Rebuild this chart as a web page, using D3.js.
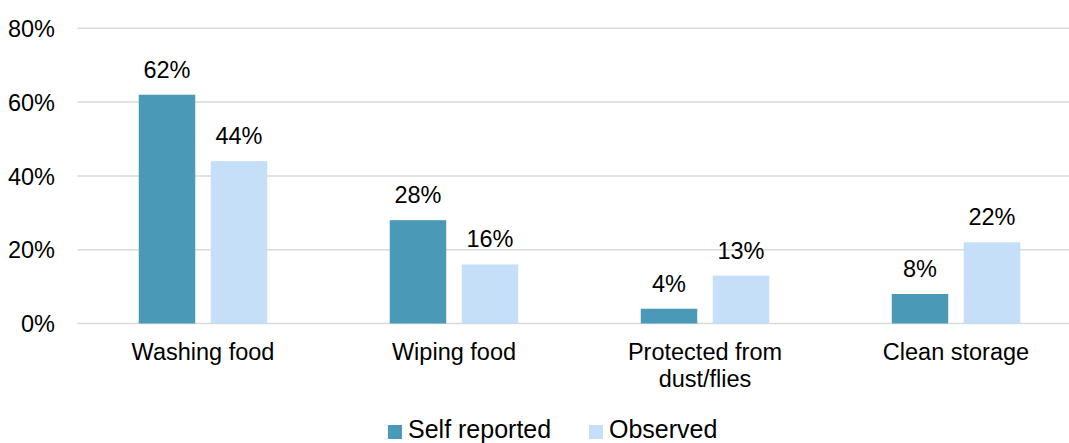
<!DOCTYPE html>
<html>
<head>
<meta charset="utf-8">
<script src="https://cdn.jsdelivr.net/npm/d3@7/dist/d3.min.js"></script>
<style>
  html, body { margin: 0; padding: 0; background: #fff; }
  svg { display: block; font-family: "Liberation Sans", Arial, sans-serif; }
</style>
</head>
<body>
<svg id="chart" width="1069" height="443"></svg>
<script>
// Food hygiene practices: self reported vs observed
const categories = [["Washing food"], ["Wiping food"], ["Protected from", "dust/flies"], ["Clean storage"]];
const seriesNames = ["Self reported", "Observed"];
const selfReported = [62, 28, 4, 8];
const observed = [44, 16, 13, 22];
const yTicks = [0, 20, 40, 60, 80];
const colors = ["#4A9AB7", "#C5DFF8"];

const svg = d3.select("#chart");
const left = 77.5, bandW = 251;
const fontSize = 23.5;

const x0 = d3.scaleBand()
  .domain(d3.range(categories.length))
  .range([left, left + bandW * categories.length]);
const y = d3.scaleLinear().domain([0, 80]).range([323.5, 28.3]);

// two bars per group, separated by a small gap
const barW = 56.5, gap = 15.5;
const x1 = d3.scaleBand().domain([0, 1])
  .range([-(barW + gap / 2), barW + gap / 2])
  .paddingInner(gap / (barW + gap));

// grid lines
svg.append("g").selectAll("line").data(yTicks).join("line")
  .attr("x1", left).attr("x2", 1069)
  .attr("y1", d => y(d)).attr("y2", d => y(d))
  .attr("stroke", "#D9D9D9").attr("stroke-width", 1.5);

// y axis labels
const yAxis = d3.axisLeft(y).tickValues(yTicks).tickFormat(d => d + "%").tickSize(0).tickPadding(0);
const ya = svg.append("g").attr("transform", "translate(55,0)").call(yAxis);
ya.select(".domain").remove();
ya.selectAll("text").attr("font-size", fontSize).attr("fill", "#000")
  .attr("font-family", "Liberation Sans, Arial, sans-serif").attr("dy", "0.35em");

const series = [selfReported, observed];
series.forEach((vals, s) => {
  const g = svg.append("g");
  g.selectAll("rect").data(vals).join("rect")
    .attr("x", (d, i) => x0(i) + x0.bandwidth() / 2 + x1(s))
    .attr("width", x1.bandwidth())
    .attr("y", d => y(d))
    .attr("height", d => y(0) - y(d))
    .attr("fill", colors[s]);
  g.selectAll("text").data(vals).join("text")
    .attr("x", (d, i) => x0(i) + x0.bandwidth() / 2 + x1(s) + x1.bandwidth() / 2)
    .attr("y", d => y(d) - 17)
    .attr("text-anchor", "middle")
    .attr("font-size", fontSize).attr("fill", "#000")
    .text(d => d + "%");
});

// category labels
const cat = svg.append("g").selectAll("text").data(categories).join("text")
  .attr("x", (d, i) => x0(i) + x0.bandwidth() / 2)
  .attr("y", 360)
  .attr("text-anchor", "middle")
  .attr("font-size", fontSize).attr("fill", "#000");
cat.selectAll("tspan").data(d => d).join("tspan")
  .attr("x", function () { return d3.select(this.parentNode).attr("x"); })
  .attr("dy", (d, j) => j === 0 ? 0 : 27)
  .text(d => d);

// legend
const legendX = [388, 589];
const lg = svg.append("g").selectAll("g").data(seriesNames).join("g")
  .attr("transform", (d, i) => `translate(${legendX[i]},0)`);
lg.append("rect").attr("x", 0).attr("y", 425).attr("width", 14).attr("height", 14)
  .attr("fill", (d, i) => colors[i]);
lg.append("text").attr("x", 20).attr("y", 438)
  .attr("font-size", 25).attr("fill", "#000").text(d => d);
</script>
</body>
</html>
